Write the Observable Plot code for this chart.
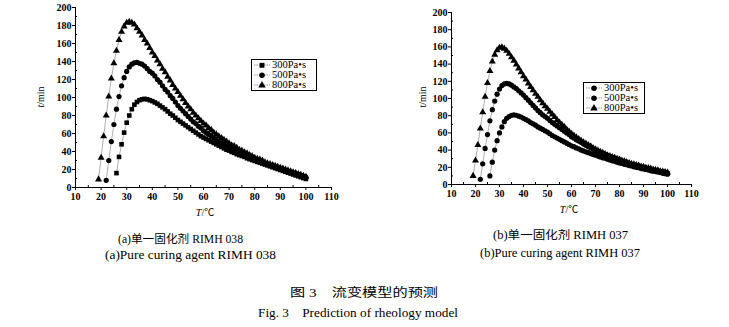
<!DOCTYPE html>
<html><head><meta charset="utf-8">
<script src="https://cdn.jsdelivr.net/npm/d3@7"></script>
<script src="https://cdn.jsdelivr.net/npm/@observablehq/plot@0.6"></script>
<style>
body{margin:0;background:#fff;}
#page{position:relative;width:729px;height:327px;overflow:hidden;background:#fff;font-family:"Liberation Serif","Noto Sans CJK SC",serif;color:#000;}
.abs{position:absolute;white-space:nowrap;}
.legend{position:absolute;border:1px solid #000;background:#fff;font-size:10.5px;line-height:10px;}
.legend .row{display:flex;align-items:center;height:10px;}
</style></head>
<body><div id="page"></div>
<script>
// ---- data ----
const temperatures = [19,20,21,22,23,24,25,26,27,28,29,30,31,32,33,34,35,36,37,38,39,40,41,42,43,44,45,46,47,48,49,50,51,52,53,54,55,56,57,58,59,60,61,62,63,64,65,66,67,68,69,70,71,72,73,74,75,76,77,78,79,80,81,82,83,84,85,86,87,88,89,90,91,92,93,94,95,96,97,98,99,100];
const seriesNames = ["300Pa•s","500Pa•s","800Pa•s"];
// panel (a) RIMH 038
const a300 = [null,null,null,null,null,null,null,16,34,48,61,72,80,87,92,95,97,98,98.5,98,97,96,94.5,93,91,89,87,84.5,82,80,77.5,75,73,71,69,67,65,63,61,59,57,55.5,54,52.5,51,49.5,48,46.5,45,43.5,42,41,39.5,38.5,37,36,35,34,32.5,31.5,30.5,29.5,28.5,27.5,26.5,25.5,24.5,23.5,22.5,21.5,20.5,19.5,18.5,17.5,16.5,15.5,14.5,13.5,12.5,11.5,10.5,9.5];
const a500 = [null,null,null,8,30,51,70,87,101,113,122,129,134,137,138.5,139,138,137,135,132,129,127,124,120,117,113,109,106,102,99,95,91,88,85,82,79,76,73,71,68,66,63,61,59,57,55,53,51,49,48,46,45,43,42,40,39,38,36,35,34,33,31,30,29,28,27,26,25,24,23,22,21,20,19,18,17.5,16.5,15.5,14.5,13.5,12.5,11.5];
const a800 = [9,33,57,80,101,121,138,152,164,173,179,183,184,183,181,177,173,169,164,160,155,150,146,141,137,132,128,123,119,114,110,106,102,98,94,90,87,83,80,77,74,71,69,66,64,61,59,57,55,53,51,49,47,46,44,42,41,39,38,36,35,33,32,31,30,28,27,26,25,24,23,22,21,20,19,18,17,16,15,14,13,12];
// panel (b) RIMH 037
const b300 = [null,null,null,null,null,null,null,10,26,40,51,60,67,73,77,79,80.5,81,80.5,79.5,78.5,77,75.5,74,72,70.5,69,67,65.5,64,62.5,61,59,57,55.5,54,52.5,51,49.5,48,46.5,45,44,42.5,41.5,40,39,38,37,36,35,34,33,32,31,30.5,29.5,28.5,27.5,27,26,25,24.5,23.5,23,22,21.5,20.5,20,19.5,18.5,18,17.5,17,16,15.5,15,14.5,14,13,12.5,12];
const b500 = [null,null,null,6,24,42,58,74,87,97,105,111,115,117,117.5,117,115.5,113.5,111.5,109,106.5,104,101,98,95,92,89,86,83.5,81,79,77,74.5,72,70,68,66,64,62,60,58,55.5,54,52,50.5,49,47,45.5,44,42.5,41,39.5,38.5,37,36,35,33.5,32.5,31.5,30.5,29.5,28.5,27.5,26.5,25.5,24.5,23.5,23,22,21.5,20.5,20,19,18.5,18,17,16.5,16,15,14.5,14,13.5];
const b800 = [10,28,46,65,84,102,118,132,143,151,156,159,159.5,158,155.5,152,148,144,139.5,135,130.5,126,122,117.5,113.5,109.5,105.5,102,98,94.5,91,88,84.5,81.5,78.5,75,72,69.5,67,64,61.5,59,57,55,53,51,49,47.5,46,44.5,42.5,41,39.5,38,37,35.5,34,33,32,31,30,29,28,27,26,25,24,23.5,22.5,22,21,20.5,19.5,19,18.5,17.5,17,16.5,15.5,15,14.5,14];
const xTickLabels = ["10","20","30","40","50","60","70","80","90","100","110"];
const yTickLabels = ["0","20","40","60","80","100","120","140","160","180","200"];
const panelTitlesCN = ["(a)单一固化剂 RIMH 038","(b)单一固化剂 RIMH 037"];
const panelTitlesEN = ["(a)Pure curing agent RIMH 038","(b)Pure curing agent RIMH 037"];
const figTitleCN = "图 3　流变模型的预测";
const figTitleEN = "Fig. 3　Prediction of rheology model";

function rows(arrs){
  const out=[];
  arrs.forEach((arr,si)=>arr.forEach((v,i)=>{ if(v!=null) out.push({T:temperatures[i], t:v, s:seriesNames[si]}); }));
  return out;
}
const xTicks = xTickLabels.map(Number), yTicks = yTickLabels.map(Number);
const xMinor = d3.range(10,111,5).filter(v=>!xTicks.includes(v));
const yMinor = d3.range(0,201,10).filter(v=>!yTicks.includes(v));

function panel(data, symbols, m){
  return Plot.plot({
    width:m.w, height:225, marginLeft:m.l, marginRight:m.r, marginTop:m.t, marginBottom:m.b,
    style:{fontFamily:"Liberation Serif",fontSize:"10px",color:"#000",background:"transparent",fontWeight:"bold"},
    x:{domain:[10,110]}, y:{domain:[0,200]},
    symbol:{domain:seriesNames, range:symbols},
    marks:[
      Plot.ruleY([0],{stroke:"#000",strokeWidth:1}),
      Plot.ruleX([10],{stroke:"#000",strokeWidth:1}),
      Plot.axisX({ticks:xTicks, tickSize:3, tickPadding:2, label:null, tickFormat:(d,i)=>xTickLabels[i]}),
      Plot.axisX({ticks:xMinor, tickSize:-2, text:null, label:null}),
      Plot.axisY({ticks:yTicks, tickSize:3, tickPadding:1, label:null, tickFormat:(d,i)=>yTickLabels[i]}),
      Plot.axisY({ticks:yMinor, tickSize:-2, text:null, label:null}),
      Plot.line(data,{x:"T",y:"t",z:"s",stroke:"#777",strokeWidth:0.6}),
      Plot.dot(data,{x:"T",y:"t",symbol:"s",fill:"#000",stroke:"none",r:2.6})
    ]
  });
}

const page = document.getElementById("page");
function place(el, left, top){ el.style.position="absolute"; el.style.left=left+"px"; el.style.top=top+"px"; page.appendChild(el); }

place(panel(rows([a300,a500,a800]),["square","circle","triangle"],{w:365,l:75,r:34,t:7,b:38}),0,0);
place(panel(rows([b300,b500,b800]),["circle","circle","triangle"],{w:364,l:86,r:38,t:12,b:41}),365,0);

function legend(left, top, w, symbols){
  const d=document.createElement("div"); d.className="legend";
  d.style.left=left+"px"; d.style.top=top+"px"; d.style.width=w+"px"; d.style.padding="0";
  seriesNames.forEach((n,i)=>{
    const r=document.createElement("div"); r.className="row";
    const sym = d3.symbol(symbols[i]==="square"?d3.symbolSquare:symbols[i]==="circle"?d3.symbolCircle:d3.symbolTriangle, 24)();
    r.innerHTML=`<svg width="20" height="10" style="flex:none"><line x1="2" x2="18" y1="5" y2="5" stroke="#666" stroke-width="0.7" stroke-dasharray="1.5,1"/><path d="${sym}" transform="translate(10,5.3)" fill="#000"/></svg><span>${n}</span>`;
    d.appendChild(r);
  });
  page.appendChild(d);
}
legend(251,59,64,["square","circle","triangle"]);
legend(583,82,60,["circle","circle","triangle"]);

function text(str, left, top, css){ const s=document.createElement("div"); s.className="abs"; s.innerHTML=str; s.style.left=left+"px"; s.style.top=top+"px"; Object.assign(s.style, css||{}); page.appendChild(s); return s; }
text("<i>t</i>/min", 40, 97, {fontSize:"10px",transform:"translate(-50%,-50%) rotate(-90deg)"});
text("<i>T</i>/℃", 205, 211, {fontSize:"10px",transform:"translate(-50%,-50%)"});
text("t/min", 422, 97, {fontSize:"10px",transform:"translate(-50%,-50%) rotate(-90deg)"});
text("<i>T</i>/℃", 569, 208, {fontSize:"10px",transform:"translate(-50%,-50%)"});

function centered(str, cx, cy, size, w){
  const s=text(str, cx, cy, {fontSize:size+"px"});
  const bw=s.getBoundingClientRect().width;
  const k = w? w/bw : 1;
  s.style.transformOrigin="left center";
  s.style.left=(cx - bw*k/2)+"px";
  s.style.top=(cy - size*0.6)+"px";
  s.style.transform=`scaleX(${k})`;
}
centered(panelTitlesCN[0], 180, 237, 11.5, 125);
centered(panelTitlesEN[0], 190, 256, 11.5, 171);
centered(panelTitlesCN[1], 560, 233, 11.5, 135);
centered(panelTitlesEN[1], 560, 254, 11.5, 160);
centered(figTitleCN, 364, 290, 12, 148);
centered(figTitleEN, 358, 310, 12, 200);
</script></body></html>
